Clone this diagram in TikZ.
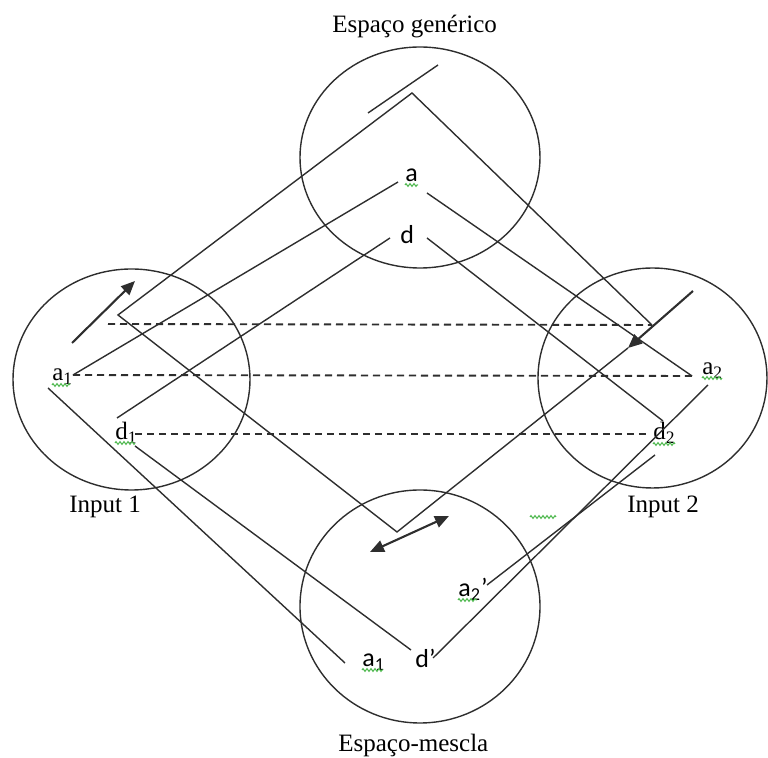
\documentclass[tikz,border=0pt]{standalone}
\usepackage{fontspec}
\setmainfont{Liberation Serif}
\newfontfamily\calib{Carlito}
\usetikzlibrary{arrows.meta,shapes.geometric,decorations.pathmorphing}

\definecolor{ink}{HTML}{2E2E2E}
\definecolor{squig}{RGB}{80,185,80}

\tikzset{
  space/.style={ellipse, draw=ink, line width=0.7pt, inner sep=0pt},
  link/.style={draw=ink, line width=0.7pt},
  corr/.style={draw=ink, line width=0.95pt, dash pattern=on 3.6pt off 2.4pt},
  push/.style={draw=ink, line width=1.05pt, -{Triangle[length=7pt,width=6pt]}},
  swap/.style={draw=ink, line width=1.05pt, {Triangle[length=7pt,width=6pt]}-{Triangle[length=7pt,width=6pt]}},
  caption/.style={anchor=base west, inner sep=0pt, font=\fontsize{12.5}{15}\selectfont},
  serifel/.style={anchor=base west, inner sep=0pt, font=\fontsize{12.5}{15}\selectfont},
  sansel/.style={anchor=base west, inner sep=0pt, font=\calib\fontsize{13}{15}\selectfont},
  spell/.style={draw=squig, line width=0.5pt, decorate,
    decoration={zigzag, segment length=2pt, amplitude=0.7pt}}
}

\begin{document}
\begin{tikzpicture}[x=0.5pt,y=-0.5pt]
\useasboundingbox (0,0) rectangle (768,758);

% the four mental spaces
\node[space, minimum width=120pt, minimum height=110.5pt] (gen) at (420,157.5) {};
\node[space, minimum width=118.5pt, minimum height=110.5pt] (in1) at (131.5,379.5) {};
\node[space, minimum width=114.5pt, minimum height=110pt] (in2) at (652.5,378) {};
\node[space, minimum width=120pt, minimum height=116.5pt] (blend) at (420,606.5) {};

% captions
\node[caption] (capgen) at (332,33) {Espaço genérico};
\node[caption] (capin1) at (69,513) {Input 1};
\node[caption] (capin2) at (627,513) {Input 2};
\node[caption] (capblend) at (338,752) {Espaço-mescla};

% elements
\node[sansel] (ga) at (405,182) {a};
\node[sansel] (gd) at (400,244) {d};
\node[serifel] (ia1) at (52,381) {a\textsubscript{1}};
\node[serifel] (id1) at (115,440) {d\textsubscript{1}};
\node[serifel] (ia2) at (702,375) {a\textsubscript{2}};
\node[serifel] (id2) at (653,440) {d\textsubscript{2}};
\node[sansel] (ba2) at (458,597) {a\textsubscript{2}’};
\node[sansel] (ba1) at (362,667) {a\textsubscript{1}};
\node[sansel] (bd) at (415,668) {d’};

% connector end points
\coordinate (fR) at (652,325);
\coordinate (fApex) at (412,93);
\coordinate (fCorner) at (118,315);
\coordinate (fV) at (397,532);
\coordinate (fEnd) at (628,348);
\coordinate (arRs) at (693,291);
\coordinate (arLs) at (72,343);
\coordinate (arLe) at (135,281);
\coordinate (swA) at (370,552);
\coordinate (swB) at (449,516);
\coordinate (tkA) at (368,113);
\coordinate (tkB) at (438,65);
\coordinate (gaL) at (398,182);
\coordinate (gaR) at (427,193);
\coordinate (gdL) at (390,238);
\coordinate (gdR) at (427,238);
\coordinate (a1R) at (73,375);
\coordinate (a1D) at (48,388);
\coordinate (d1U) at (117,418);
\coordinate (d1R) at (135,434);
\coordinate (d1D) at (135,446);
\coordinate (a2L) at (692,376);
\coordinate (a2D) at (708,385);
\coordinate (d2U) at (663,421);
\coordinate (d2L) at (650,434);
\coordinate (d2D) at (655,455);
\coordinate (ba2U) at (487,585);
\coordinate (ba1U) at (345,663);
\coordinate (bdL) at (411,650);
\coordinate (bdR) at (433,658);
\coordinate (dTop) at (108,324);

% frame path and arrows
\draw[link] (fR) -- (fApex) -- (fCorner) -- (fV) -- (fEnd);
\draw[push] (arRs) -- (fEnd);
\draw[push] (arLs) -- (arLe);
\draw[swap] (swA) -- (swB);
\draw[link] (tkA) -- (tkB);

% generic space to inputs
\draw[link] (gaL) -- (a1R);
\draw[link] (gaR) -- (a2L);
\draw[link] (gdL) -- (d1U);
\draw[link] (gdR) -- (d2U);

% inputs to blend
\draw[link] (a1D) -- (ba1U);
\draw[link] (d1D) -- (bdL);
\draw[link] (bdR) -- (a2D);
\draw[link] (ba2U) -- (d2D);

% cross-space correspondences
\draw[corr] (dTop) -- (fR);
\draw[corr] (a1R) -- (a2L);
\draw[corr] (d1R) -- (d2L);

% spelling marks
\coordinate (s1a) at (405,185); \coordinate (s1b) at (418,185);
\coordinate (s2a) at (52,385);  \coordinate (s2b) at (70,385);
\coordinate (s3a) at (115,443); \coordinate (s3b) at (135,443);
\coordinate (s4a) at (702,378); \coordinate (s4b) at (722,378);
\coordinate (s5a) at (653,444); \coordinate (s5b) at (675,444);
\coordinate (s6a) at (458,600); \coordinate (s6b) at (477,600);
\coordinate (s7a) at (362,670); \coordinate (s7b) at (383,670);
\coordinate (s8a) at (530,517); \coordinate (s8b) at (556,517);
\foreach \p in {1,...,8} \draw[spell] (s\p a) -- (s\p b);
\end{tikzpicture}
\end{document}
